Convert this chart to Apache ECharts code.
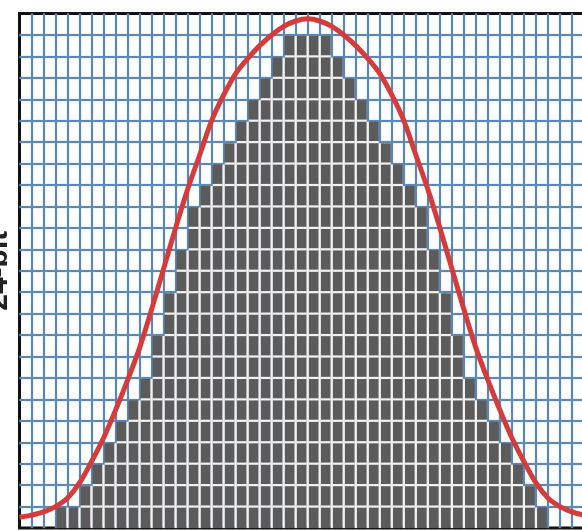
<!DOCTYPE html>
<html>
<head>
<meta charset="utf-8">
<script src="https://cdn.jsdelivr.net/npm/echarts@6.0.0/dist/echarts.min.js"></script>
<style>
html,body{margin:0;padding:0;background:#fff;}
#chart{width:582px;height:531px;}
</style>
</head>
<body>
<div id="chart"></div>
<script>
// filled cells per column (histogram of pixel values)
var columnHeights = [0,0,0,1,1,2,3,4,5,6,7,9,11,13,15,16,17,18,19,20,21,22,23,23,
                     23,23,22,21,20,19,18,17,16,15,13,11,9,7,6,5,4,3,2,1,0,0,0,0];
// red curve, read at every grid line 0..48
var curveX = [0,1,2,3,4,5,6,7,8,9,10,11,12,13,14,15,16,17,18,19,20,21,22,23,24,
              25,26,27,28,29,30,31,32,33,34,35,36,37,38,39,40,41,42,43,44,45,46,47,48];
var curveY = [0.5,0.6,0.75,1.0,1.4,2.1,3.1,4.2,5.5,6.9,8.4,10.2,12.1,14.0,15.8,17.4,19.0,20.2,21.2,21.9,22.5,23.0,23.4,23.65,23.75,
              23.65,23.4,23.0,22.5,21.9,21.2,20.2,19.0,17.4,15.8,14.0,12.1,10.2,8.4,6.9,5.5,4.2,3.1,2.1,1.4,1.0,0.75,0.6,0.5];
var numRows = 24;
var yAxisName = '24-bit';

var numCols = columnHeights.length;
var chart = echarts.init(document.getElementById('chart'));

var columnData = columnHeights.map(function(h, i){ return [i, h]; });
var curveData = curveX.map(function(x, i){ return [x, curveY[i]]; });

//灰色柱子 + 内部白线
function renderColumn(params, api){
	var c = api.value(0), h = api.value(1);
	if (!h) return;
	var p0 = api.coord([c, 0]), p1 = api.coord([c + 1, h]);
	var children = [{
		type: 'rect',
		shape: {x: p0[0] + 1, y: p1[1] + 1, width: p1[0] - p0[0] - 2, height: p0[1] - p1[1] - 1},
		style: {fill: '#5b5b5b'}
	}];
	for (var r = 1; r < h; r++){
		var a = api.coord([c, r]), b = api.coord([c + 1, r]);
		children.push({type: 'line', shape: {x1: a[0] + 1, y1: a[1], x2: b[0] - 1, y2: b[1]}, style: {stroke: '#f2f2f2', lineWidth: 2.2}});
	}
	var prev = params.dataIndex > 0 ? columnHeights[params.dataIndex - 1] : 0;
	var shared = Math.min(prev, h);
	if (shared > 0){
		var s = api.coord([c, 0]), e = api.coord([c, shared]);
		children.push({type: 'line', shape: {x1: s[0], y1: s[1], x2: e[0], y2: e[1] + 1}, style: {stroke: '#f2f2f2', lineWidth: 2.2}});
	}
	return {type: 'group', children: children};
}

var gridLine = {color: '#5d86b0', width: 2, shadowColor: 'rgba(140,195,240,0.7)', shadowBlur: 2};

var option = {
	animation: false,
	grid: {
		left: 19.5, top: 13.5, right: -14, bottom: 3,
		show: true, borderColor: '#111', borderWidth: 3, backgroundColor: '#fff',
		outerBoundsMode: 'none'
	},
	xAxis: {
		type: 'value', min: 0, max: numCols, interval: 1,
		axisLine: {show: false}, axisTick: {show: false}, axisLabel: {show: false},
		splitLine: {show: true, showMinLine: false, showMaxLine: false, lineStyle: gridLine}
	},
	yAxis: {
		type: 'value', min: 0, max: numRows, interval: 1,
		name: yAxisName, nameLocation: 'middle', nameRotate: 90, nameGap: 6,
		nameTextStyle: {fontFamily: 'Liberation Sans', fontWeight: 'bold', fontSize: 30, color: '#222'},
		axisLine: {show: false}, axisTick: {show: false}, axisLabel: {show: false},
		splitLine: {show: true, showMinLine: false, showMaxLine: false, lineStyle: gridLine}
	},
	series: [
		{type: 'custom', renderItem: renderColumn, data: columnData, z: 2},
		{type: 'line', data: curveData, smooth: 0.3, symbol: 'none', z: 3,
		 lineStyle: {color: '#d63b3b', width: 5}}
	]
};
chart.setOption(option);
</script>
</body>
</html>
